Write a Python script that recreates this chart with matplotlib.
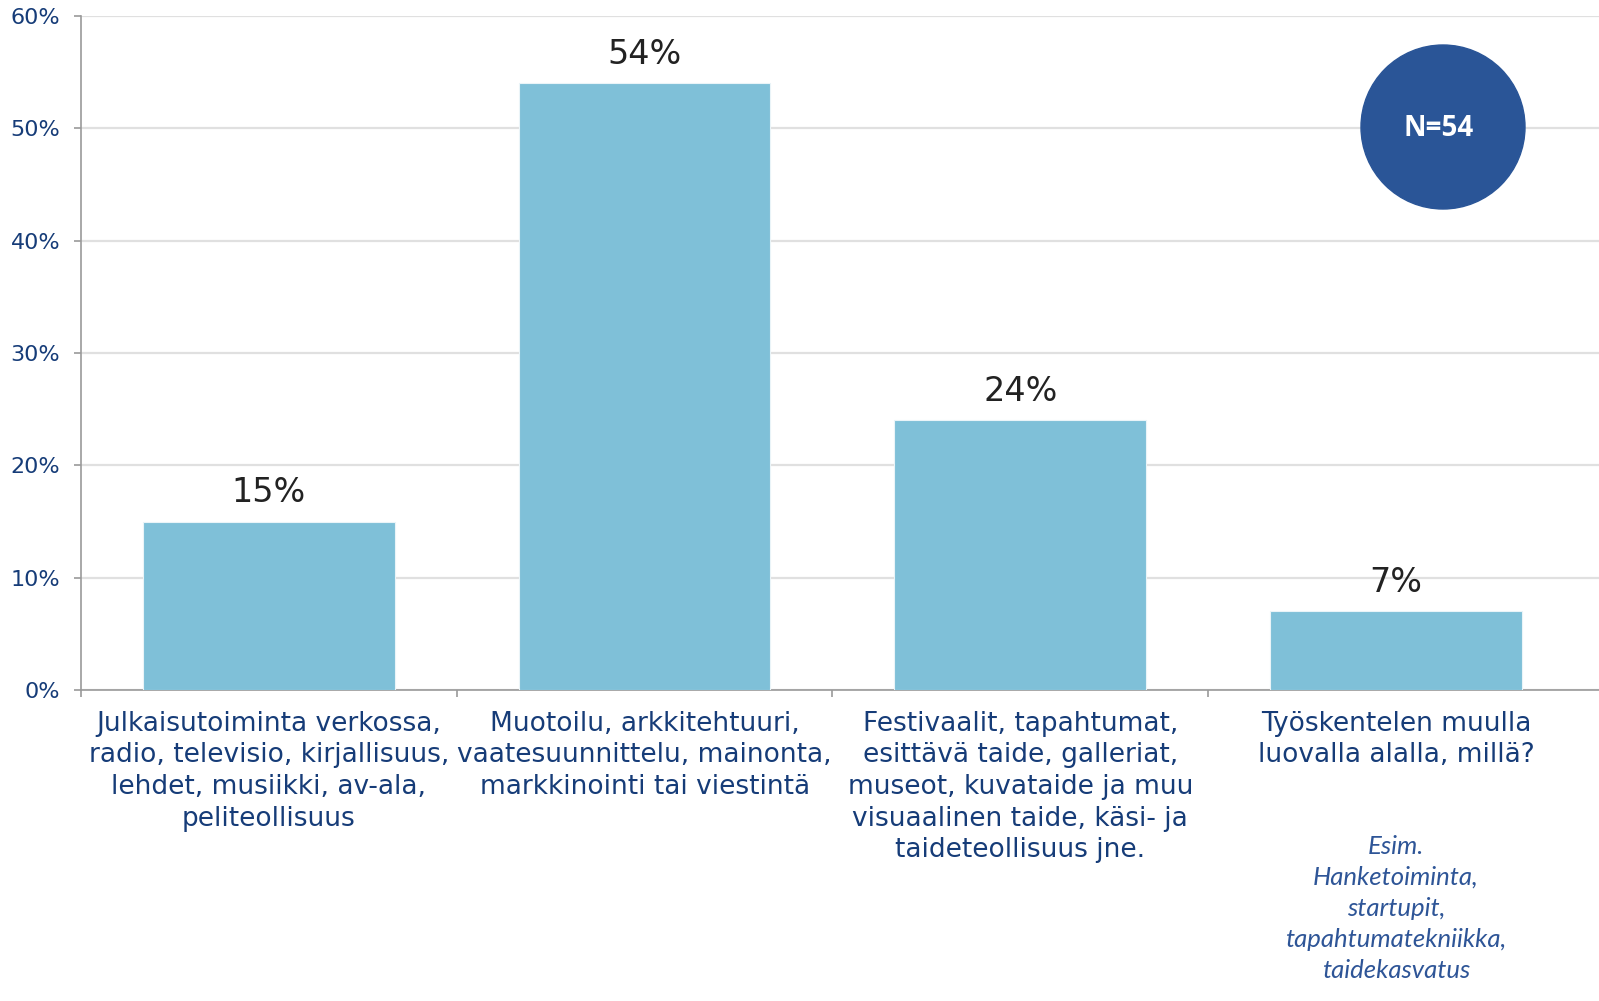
import matplotlib.pyplot as plt
from matplotlib.patches import Ellipse

categories = [
    "Julkaisutoiminta verkossa,\nradio, televisio, kirjallisuus,\nlehdet, musiikki, av-ala,\npeliteollisuus",
    "Muotoilu, arkkitehtuuri,\nvaatesuunnittelu, mainonta,\nmarkkinointi tai viestintä",
    "Festivaalit, tapahtumat,\nesittävä taide, galleriat,\nmuseot, kuvataide ja muu\nvisuaalinen taide, käsi- ja\ntaideteollisuus jne.",
    "Työskentelen muulla\nluovalla alalla, millä?",
]
values = [15, 54, 24, 7]
yticks = [0, 10, 20, 30, 40, 50, 60]
note = "Esim.\nHanketoiminta,\nstartupit,\ntapahtumatekniikka,\ntaidekasvatus"
n_text = "N=54"

navy = "#163C78"
bar_color = "#7FC0D8"

fig = plt.figure(figsize=(15.99, 10.01), dpi=100)
ax = fig.add_axes([81 / 1599, 311 / 1001, 1 - 81 / 1599, 674 / 1001])

x = list(range(len(values)))
ax.bar(x, values, width=0.67, color=bar_color, edgecolor="#EAF4F8", linewidth=0.8, zorder=3)

for xi, v in zip(x, values):
    ax.annotate(f"{v}%", (xi, v), xytext=(0, 9), textcoords="offset points",
                ha="center", va="bottom", fontsize=24, color="#222222")

ax.set_xlim(-0.5, 3.54)
ax.set_ylim(0, 60)
ax.set_yticks(yticks)
ax.set_yticklabels([f"{t}%" for t in yticks], fontsize=16, color=navy)
ax.yaxis.grid(True, color="#E0E0E0", linewidth=1.6, zorder=0)
ax.set_axisbelow(True)

ax.set_xticks(x)
ax.set_xticklabels(categories, fontsize=19, color=navy, linespacing=1.28, va="top")
ax.tick_params(axis="x", which="major", length=0, pad=15)
ax.set_xticks([-0.5, 0.5, 1.5, 2.5], minor=True)
ax.tick_params(axis="x", which="minor", length=5, color="#9A9A9A", width=1.2)
ax.tick_params(axis="y", length=5, color="#9A9A9A", width=1.2, pad=10)

for side in ["top", "right"]:
    ax.spines[side].set_visible(False)
for side in ["left", "bottom"]:
    ax.spines[side].set_color("#9A9A9A")
    ax.spines[side].set_linewidth(1.2)

# italic note under the last category
ax.text(3, -12.9, note, ha="center", va="top", fontsize=18.5, style="italic",
        family="Lato", color="#2E5597", linespacing=1.42, clip_on=False)

# N badge
fig.add_artist(Ellipse((1443 / 1599, 1 - 127 / 1001), 164 / 1599, 164 / 1001,
                       transform=fig.transFigure, color="#2A5597", zorder=5))
fig.text(1439 / 1599, 1 - 128 / 1001, n_text, ha="center", va="center", fontsize=20,
         fontweight="bold", family="Open Sans", color="white", zorder=6)

fig.savefig("out.png", dpi=100)
